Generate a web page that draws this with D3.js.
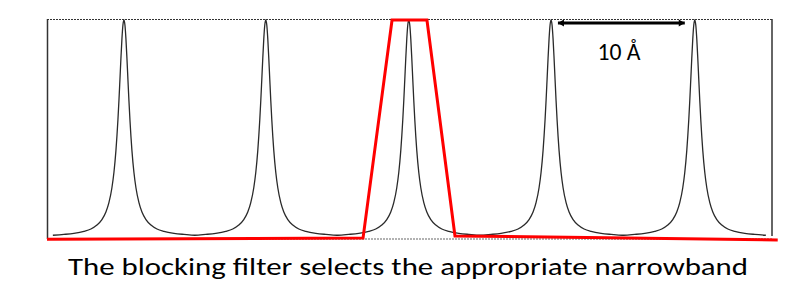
<!DOCTYPE html>
<html><head><meta charset="utf-8">
<script src="https://cdn.jsdelivr.net/npm/d3@7"></script>
<style>body{margin:0;background:#fff}svg{display:block}</style>
</head><body><svg id="c" width="800" height="295"></svg>
<script>
// Data (wavelength in Å, transmission 0..1)
const peakCenters = [5.38, 15.3, 25.3, 35.25, 45.3];
const profileOffsets = [0, 0.07, 0.14, 0.21, 0.28, 0.35, 0.42, 0.56, 0.7, 0.84, 1.05, 1.26, 1.54, 1.89, 2.31, 2.8, 3.5, 4.2, 4.97];
const profileValues  = [1, 0.977, 0.913, 0.824, 0.725, 0.628, 0.54, 0.398, 0.297, 0.227, 0.158, 0.115, 0.08, 0.055, 0.037, 0.026, 0.017, 0.012, 0.008];
const filterX = [0, 22.1, 24.13, 26.57, 28.53, 51.1];
const filterY = [-0.01, -0.005, 1, 1, 0.005, -0.014];
const spacingLabel = "10 Å";
const spacingFrom = 35.73, spacingTo = 44.6;
const caption = "The blocking filter selects the appropriate narrowband";

const svg = d3.select("#c");
const x = d3.scaleLinear().domain([0, 50.7]).range([47, 772]);
const y = d3.scaleLinear().domain([0, 1]).range([237, 20]);

// build Fabry-Perot comb points
const pts = [];
peakCenters.forEach((c, i) => {
  for (let k = profileOffsets.length - 1; k >= 1; k--) pts.push([c - profileOffsets[k], profileValues[k]]);
  for (let k = 0; k < profileOffsets.length; k++) pts.push([c + profileOffsets[k], profileValues[k]]);
});
const line = d3.line().x(d => x(d[0])).y(d => y(d[1])).curve(d3.curveMonotoneX);

// frame
svg.append("line").attr("x1",47).attr("x2",772).attr("y1",19.5).attr("y2",19.5)
  .attr("stroke","#333").attr("stroke-width",1).attr("stroke-dasharray","2,1");
svg.append("line").attr("x1",47.5).attr("x2",47.5).attr("y1",19).attr("y2",239)
  .attr("stroke","#333").attr("stroke-width",1.5);
svg.append("line").attr("x1",772).attr("x2",772).attr("y1",19).attr("y2",236)
  .attr("stroke","#333").attr("stroke-width",1.5);
svg.append("line").attr("x1",47).attr("x2",772).attr("y1",239).attr("y2",239)
  .attr("stroke","#999").attr("stroke-width",1.5).attr("stroke-dasharray","2,1");

svg.append("path").datum(pts).attr("d", line).attr("fill","none")
  .attr("stroke","#2a2a2a").attr("stroke-width",1.3);

// blocking filter
const fdata = filterX.map((v,i)=>[v, filterY[i]]);
svg.append("path").datum(fdata).attr("d", d3.line().x(d=>x(d[0])).y(d=>y(d[1])))
  .attr("fill","none").attr("stroke","#ff0000").attr("stroke-width",3).attr("stroke-linejoin","miter");

// spacing arrow
const ay = 23;
svg.append("line").attr("x1",x(spacingFrom)).attr("x2",x(spacingTo)).attr("y1",ay).attr("y2",ay)
  .attr("stroke","#000").attr("stroke-width",3);
[[x(spacingFrom),1],[x(spacingTo),-1]].forEach(([px,dir])=>{
  svg.append("path").attr("d",`M${px},${ay} L${px+dir*6},${ay-3.5} L${px+dir*6},${ay+3.5}Z`).attr("fill","#000");
});
svg.append("text").attr("x",619).attr("y",59.5).attr("text-anchor","middle")
  .attr("font-family","Carlito, Lato, sans-serif").attr("font-size",24).attr("fill","#000")
  .attr("textLength",43).attr("lengthAdjust","spacingAndGlyphs").text(spacingLabel);

svg.append("text").attr("x",68).attr("y",274.5)
  .attr("font-family","Carlito, Lato, sans-serif").attr("font-size",24.5).attr("fill","#000")
  .attr("textLength",680).attr("lengthAdjust","spacingAndGlyphs").text(caption);
</script></body></html>
